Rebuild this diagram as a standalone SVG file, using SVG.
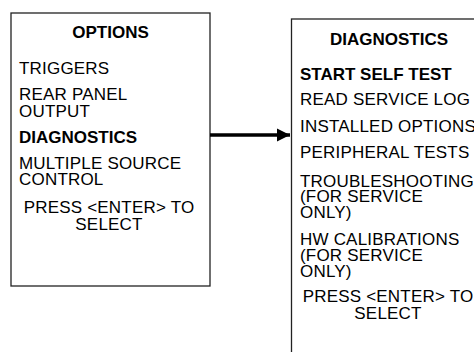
<svg xmlns="http://www.w3.org/2000/svg" width="474" height="352" viewBox="0 0 474 352">
<style>
.box{fill:#fff;stroke:#222;stroke-width:1.3}
text{font-family:"Liberation Sans",Arial,sans-serif;font-size:17px;letter-spacing:0.2px;fill:#000}
.b{font-weight:bold;letter-spacing:0}
.c{text-anchor:middle}
</style>
<defs>
<marker id="ah" viewBox="0 0 10 10" refX="10" refY="5" markerWidth="3.8" markerHeight="3.8" orient="auto" markerUnits="strokeWidth">
<path d="M0,0 L10,5 L0,10 z" fill="#000"/>
</marker>
</defs>
<rect width="474" height="352" fill="#fff"/>
<g id="options">
<rect class="box" x="11" y="13" width="199" height="273"/>
<text class="b c" x="110.5" y="37.5">OPTIONS</text>
<text x="19" y="74">TRIGGERS</text>
<text x="19" y="100">REAR PANEL</text>
<text x="19" y="116.5">OUTPUT</text>
<text class="b" x="19" y="142.5">DIAGNOSTICS</text>
<text x="19" y="168.5">MULTIPLE SOURCE</text>
<text x="19" y="185">CONTROL</text>
<text class="c" x="109" y="213">PRESS &lt;ENTER&gt; TO</text>
<text class="c" x="109" y="230">SELECT</text>
</g>
<g id="diagnostics">
<rect class="box" x="291.5" y="19" width="195" height="345"/>
<text class="b c" x="389" y="45">DIAGNOSTICS</text>
<text class="b" x="300" y="80">START SELF TEST</text>
<text x="300" y="105">READ SERVICE LOG</text>
<text x="300" y="131.5">INSTALLED OPTIONS</text>
<text x="300" y="158">PERIPHERAL TESTS</text>
<text x="300" y="186.5">TROUBLESHOOTING</text>
<text x="300" y="202">(FOR SERVICE</text>
<text x="300" y="218">ONLY)</text>
<text x="300" y="245">HW CALIBRATIONS</text>
<text x="300" y="260.5">(FOR SERVICE</text>
<text x="300" y="276.5">ONLY)</text>
<text class="c" x="388" y="301.5">PRESS &lt;ENTER&gt; TO</text>
<text class="c" x="388" y="319">SELECT</text>
</g>
<g id="connectors">
<line x1="210" y1="135" x2="290" y2="135" stroke="#000" stroke-width="3.5" marker-end="url(#ah)"/>
</g>
</svg>
